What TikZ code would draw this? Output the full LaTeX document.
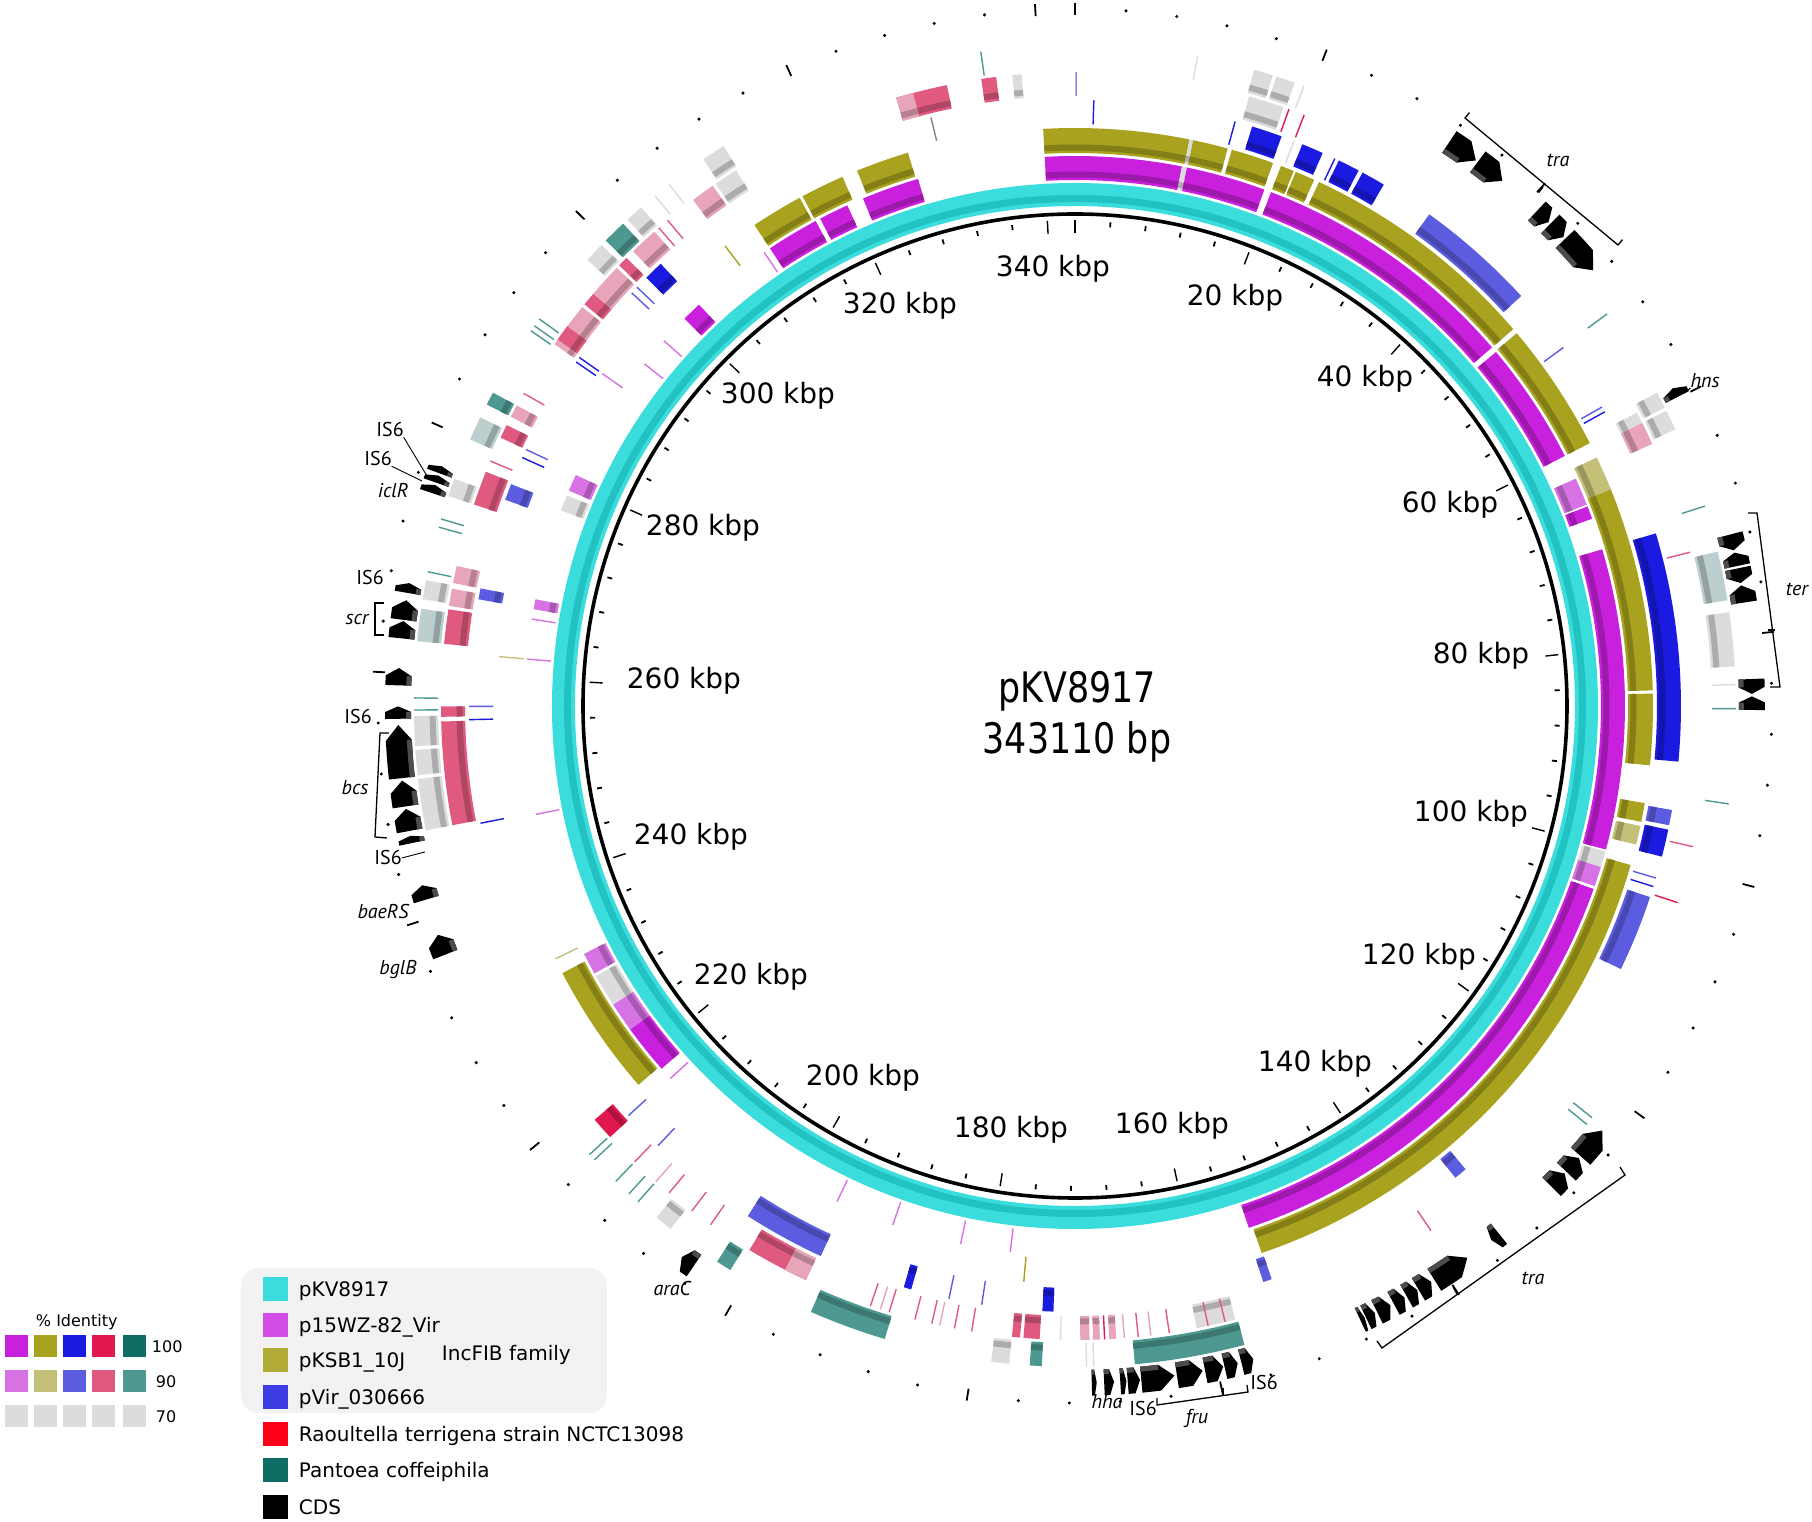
\documentclass[tikz,border=0pt]{standalone}
\usepackage{fontspec}
\usepackage{graphicx}
\usetikzlibrary{calc}
\setmainfont{DejaVu Sans}
\newfontfamily\pts{PT Sans}
\definecolor{cy}{HTML}{3ADCDC}\definecolor{cyd}{HTML}{22C2C2}
\definecolor{mg}{HTML}{C820DC}\definecolor{mgl}{HTML}{D672E4}
\definecolor{ol}{HTML}{A9A21E}\definecolor{oll}{HTML}{C4C078}
\definecolor{bl}{HTML}{1A1AE0}\definecolor{bll}{HTML}{5C5CE0}
\definecolor{rd}{HTML}{E0184E}\definecolor{rdl}{HTML}{E05A80}\definecolor{rdp}{HTML}{E8A4B8}
\definecolor{tl}{HTML}{0E6E66}\definecolor{tll}{HTML}{4E9892}\definecolor{tlg}{HTML}{BCCECE}
\definecolor{gy}{HTML}{DCDCDC}\definecolor{boxg}{HTML}{F2F2F2}
\newcommand\xsg[5]{\pgfmathsetmacro\angA{90-(#3)*1.04922}\pgfmathsetmacro\angB{90-(#4)*1.04922}%
 \fill[#5] (\angA:#2) arc[start angle=\angA,end angle=\angB,radius=#2] -- (\angB:#1) arc[start angle=\angB,end angle=\angA,radius=#1] -- cycle;}
\newcommand\xbd[5]{\xsg{#1}{#2}{#3}{#4}{#5}\pgfmathsetmacro\rA{#1+2.5}\pgfmathsetmacro\rB{#1+8.5}\xsg{\rA}{\rB}{#3}{#4}{#5!78!black}}
\newcommand\xln[4]{\pgfmathsetmacro\lnA{90-(#3)*1.04922}\draw[#4,line width=1.4pt] (\lnA:#1) -- (\lnA:#2);}
\newcommand\mM[3]{\xbd{526}{550}{#1}{#2}{#3}}
\newcommand\mO[3]{\xbd{553}{578}{#1}{#2}{#3}}
\newcommand\mB[3]{\xbd{582}{606}{#1}{#2}{#3}}
\newcommand\mR[3]{\xbd{610}{634}{#1}{#2}{#3}}
\newcommand\mT[3]{\xbd{637}{661}{#1}{#2}{#3}}
\newcommand\lM[2]{\xln{526}{550}{#1}{#2}}
\newcommand\lO[2]{\xln{553}{578}{#1}{#2}}
\newcommand\lB[2]{\xln{582}{606}{#1}{#2}}
\newcommand\lR[2]{\xln{610}{634}{#1}{#2}}
\newcommand\lT[2]{\xln{637}{661}{#1}{#2}}
\newcommand\xgn[2]{\pgfmathsetmacro\gA{90-(#1)*1.04922}\pgfmathsetmacro\gB{90-(#2)*1.04922}%
 \pgfmathsetmacro\gD{\gA-\gB}\pgfmathsetmacro\gL{min(1.3,0.45*abs(\gD))*\gD/abs(\gD)}\pgfmathsetmacro\gM{\gB+\gL}%
 \fill[black] (\gA:690) arc[start angle=\gA,end angle=\gM,radius=690] -- (\gB:677) -- (\gM:664) arc[start angle=\gM,end angle=\gA,radius=664] -- cycle;
 \fill[black!70] (\gA:669) arc[start angle=\gA,end angle=\gM,radius=669] -- (\gM:664) arc[start angle=\gM,end angle=\gA,radius=664] -- cycle;}
\newcommand\tkl[1]{{\fontsize{28}{30}\selectfont #1}}
\newcommand\ctx[1]{\scalebox{0.83}[1]{\fontsize{42}{46}\selectfont #1}}
\newcommand\lgt[1]{{\fontsize{20}{22}\selectfont #1}}
\newcommand\idt[1]{{\fontsize{16}{18}\selectfont #1}}
\newcommand\gli[1]{{\pts\itshape\fontsize{20}{22}\selectfont #1}}
\newcommand\glu[1]{{\pts\fontsize{20}{22}\selectfont #1}}
\tikzset{lab/.style={inner sep=0pt,outer sep=0pt},brk/.style={line width=1.3pt}}
\begin{document}
\begin{tikzpicture}[x=1pt,y=1pt]
\fill[white] (-1075,-816) rectangle (737,706);
\useasboundingbox (-1075,-816) rectangle (737,706);
% ticks and outer scale
\foreach \k in {0,...,85}{%
 \pgfmathsetmacro\tkA{90-4*\k*1.04922}%
 \pgfmathtruncatemacro\tkm{mod(\k,5)}%
 \ifnum\tkm=0 \draw[line width=1.4pt] (\tkA:473)--(\tkA:486); \draw[line width=1.8pt] (\tkA:691)--(\tkA:703);
 \else \draw[line width=1.8pt] (\tkA:480)--(\tkA:485); \fill (\tkA:697) circle (1.7);\fi}
\draw[line width=3.6pt] (0,0) circle (492);
% backbone
\fill[cy,even odd rule] (0,0) circle (523) (0,0) circle (500);
\fill[cyd,even odd rule] (0,0) circle (511) (0,0) circle (504);
% p15WZ-82_Vir
\mM{340.1}{353.8}{mg}\mM{10.7}{11.2}{gy}\mM{11.2}{19.2}{mg}\mM{19.9}{47}{mg}\mM{47.6}{60}{mg}
\mM{62.5}{65.3}{mgl}\mM{65.5}{66.8}{mg}\mM{70}{100.2}{mg}\mM{100.4}{102}{gy}\mM{102}{104}{mgl}
\mM{104.3}{154}{mg}\mM{218}{223}{mg}\mM{223}{226}{mgl}\mM{226}{229.3}{gy}\mM{229.6}{231.8}{mgl}
\mM{300}{302}{mg}\mM{311}{316.3}{mg}\mM{316.8}{319.8}{mg}\mM{321.5}{327.3}{mg}
\mM{277.2}{278.8}{gy}\mM{279.3}{281}{mgl}\mM{267}{268}{mgl}
\lM{266}{mgl}\lM{262}{mgl}\lM{246.5}{mgl}\lM{216.7}{mgl}\lM{294}{mgl}\lM{297}{mgl}\lM{310.3}{mgl}
\lM{196}{mgl}\lM{190}{mgl}\lM{183}{mgl}\lM{178}{mgl}
% pKSB1_10J
\mO{340.1}{354}{ol}\mO{10.9}{11.25}{gy}\mO{11.25}{14.6}{ol}\mO{15}{19.1}{ol}\mO{19.9}{21.2}{ol}\mO{21.4}{23.3}{ol}
\mO{23.8}{47}{ol}\mO{47.5}{60}{ol}\mO{61.5}{64.8}{oll}\mO{64.8}{84.3}{ol}\mO{84.6}{91.4}{ol}
\mO{95}{96.8}{ol}\mO{97.2}{99}{oll}\mO{101}{153.6}{ol}\mO{218.3}{231.1}{ol}
\mO{311}{316}{ol}\mO{316.3}{320.5}{ol}\mO{322}{327.1}{ol}
\lO{307.6}{ol}\lO{262}{oll}\lO{176.4}{ol}\lO{232.6}{oll}\lO{290.8}{mgl}
% pVir_030666
\lB{1.7}{bl}\lB{330}{gy!60!black}\lB{14.6}{bl}\mB{16.2}{19}{bl}\lB{20.2}{gy}\mB{21}{23}{bl}\lB{24.2}{bl}\mB{24.6}{26.6}{bl}\mB{27}{29.2}{bl}
\mB{34.1}{45.2}{bll}\lB{51.2}{bll}\lB{58.1}{bl}\lB{57.6}{bll}\mB{70}{90.8}{bl}
\mB{95.2}{96.6}{bll}\mB{97}{99.5}{bl}\lB{101.5}{bll}\lB{102.3}{bl}\mB{103.3}{110.3}{bll}
\mB{133.3}{134.5}{bll}\mB{153.5}{154.3}{bll}\mB{173.5}{174.5}{bl}\mB{186.5}{187.2}{bl}
\lB{180}{bll}\lB{183}{bll}\mB{195.2}{202.7}{bll}\lB{216.8}{bll}\lB{213}{bll}
\mB{300.2}{302}{bl}\lB{290.3}{bl}\lB{290.8}{bl}\lB{299}{bll}\lB{298.3}{bll}
\mB{276.3}{277.8}{bll}\lB{280.4}{bl}\lB{281.2}{bll}\mB{267}{268}{bll}
\lB{256.1}{bl}\lB{257.3}{bll}\lB{246.7}{bl}
% Raoultella
\mR{327.5}{332}{rdl}\mR{327.5}{329}{rdp}\mR{335}{336.3}{rdl}\mR{337.7}{338.5}{gy}\lR{0.1}{gy!60!blue}
\mR{15.2}{18.3}{gy}\lR{18.8}{rd}\lR{20.2}{rd}\mR{59.5}{60.5}{gy}\mR{60.5}{62.5}{rdp}
\lR{72.4}{rdl}\lR{98}{rdl}\lR{103}{rd}\lR{139}{rdl}
\mR{157.6}{161}{gy}\lR{158.5}{rdl}\lR{160}{rdl}
\lR{163.4}{rdl}\lR{165}{rdp}\lR{166.1}{rdl}\lR{167.3}{rdp}
\mR{168}{168.6}{rdp}\lR{169}{rd}\mR{169.4}{170}{rdp}\mR{170.3}{171.1}{rdp}\lR{172.8}{gy}
\mR{174.6}{176}{rdl}\mR{176.3}{177}{rdl}
\lR{180.5}{rdl}\lR{182}{rdl}\lR{183.3}{rdp}\lR{184}{rdl}\lR{185.5}{rdl}\lR{187.8}{rdl}\lR{188.6}{rdp}\lR{189.5}{rdl}
\mR{195.5}{201}{rdl}\mR{195.5}{197.5}{rdp}
\lR{205}{rdl}\lR{207}{rdl}\lR{209.5}{rdl}\lR{211}{rdp}\lR{213.5}{rdl}
\mR{216.5}{218.5}{rd}\mR{247}{256}{rdl}\mR{256.4}{257.3}{rdl}\mR{262.7}{265.7}{rdl}
\mR{266}{267.5}{rdp}\mR{268}{269.5}{rdp}\mR{275}{278}{rdl}\mR{281.2}{282.4}{rdl}\mR{283.2}{284.3}{rdp}
\lR{285.5}{rdl}\lR{279}{rdl}
\mR{290.5}{294.5}{rdp}\mR{291}{292.4}{rdl}\mR{294.8}{296}{rdl}\mR{296}{299}{rdp}\mR{299.3}{300.2}{rdl}
\mR{301}{303.5}{rdp}\lR{304}{rdl}\lR{305}{rdl}\mR{307.8}{309.9}{rdp}\mR{310.2}{312.3}{gy}
% Pantoea
\lT{335.3}{tll}\lT{10.2}{gy}
\mT{15}{16.6}{gy}\mT{16.9}{18.5}{gy}\lT{19.3}{gy}\lT{51.1}{tll}\mT{58.8}{60.2}{gy}\mT{60.5}{62.2}{gy}
\lT{69}{tll}\mT{72.9}{77}{tlg}\mT{78}{82.5}{gy}\lT{84}{gy}\lT{86}{tll}\lT{93.9}{tll}
\lT{122.5}{tll}\lT{123.2}{tll}\mT{157.4}{166.6}{tll}\lT{170}{gy}\lT{170.6}{gy}
\mT{174.3}{175.3}{tll}\mT{177}{178.5}{gy}\mT{187.5}{194}{tll}\mT{201.5}{202.8}{tll}
\mT{207.5}{209}{gy}\lT{211}{tll}\lT{212}{tll}\lT{213.5}{tll}\lT{216}{tll}\lT{216.6}{tll}
\mT{247}{251.3}{gy}\mT{251.6}{253.7}{gy}\mT{254}{256.5}{gy}\lT{257}{tll}\lT{258}{tll}
\mT{262.7}{265.4}{tlg}\mT{266.2}{267.8}{gy}\lT{268.5}{tll}\lT{273}{tll}\lT{272.3}{tll}
\mT{275}{276.5}{gy}\mT{280}{282}{tlg}\mT{283.2}{284.3}{tll}
\lT{290.3}{tll}\lT{290.8}{tll}\lT{291.5}{tll}\mT{297.8}{299.5}{gy}\mT{300}{302}{tll}
\mT{302.5}{304}{gy}\mT{310.5}{312.5}{gy}\lT{305.5}{gy}\lT{307}{gy}
% CDS
\xgn{32}{34.6}\xgn{34.8}{37.3}\xgn{41}{42.3}\xgn{42.5}{44}\xgn{44.2}{47.6}
\xgn{59.9}{59.1}
\xgn{71.8}{73.1}\xgn{74.4}{73.3}\xgn{74.6}{75.8}\xgn{77.4}{76}\xgn{83.6}{84.8}\xgn{86.1}{85}
\xgn{125.5}{122.8}\xgn{127.2}{125.7}\xgn{128.9}{127.4}\xgn{134.6}{135.4}
\xgn{141}{137.8}\xgn{142.5}{141.3}\xgn{143.6}{142.6}\xgn{144.8}{143.8}\xgn{146.3}{145.1}\xgn{147.3}{146.5}\xgn{147.8}{147.4}
\xgn{158}{157}\xgn{159.4}{158.3}\xgn{161}{159.5}\xgn{163.3}{161.2}\xgn{166.2}{163.5}\xgn{167.3}{166.3}
\xgn{167.9}{167.4}\xgn{169.2}{168.4}\xgn{170.2}{169.8}
\xgn{204.2}{205.4}\xgn{236.8}{238.5}\xgn{241.5}{242.7}
\xgn{246.2}{246.8}\xgn{247.2}{249}\xgn{249.2}{251.3}\xgn{251.5}{255.8}\xgn{256.3}{257.3}
\xgn{259}{260.4}\xgn{262.8}{264.2}\xgn{264.3}{265.9}\xgn{266.5}{267.3}
\xgn{274.8}{275.5}\xgn{275.7}{276.3}\xgn{276.5}{277.1}
% scale labels
\node[lab] (k340) at (-22,437) {\tkl{340 kbp}};
\node[lab] (k20) at (160,408) {\tkl{20 kbp}};
\node[lab] (k40) at (290,327) {\tkl{40 kbp}};
\node[lab] (k60) at (375,201) {\tkl{60 kbp}};
\node[lab] (k80) at (406,50) {\tkl{80 kbp}};
\node[lab] (k100) at (396,-108) {\tkl{100 kbp}};
\node[lab] (k120) at (344,-251) {\tkl{120 kbp}};
\node[lab] (k140) at (240,-358) {\tkl{140 kbp}};
\node[lab] (k160) at (97,-420) {\tkl{160 kbp}};
\node[lab] (k180) at (-64,-424) {\tkl{180 kbp}};
\node[lab] (k200) at (-212,-372) {\tkl{200 kbp}};
\node[lab] (k220) at (-324,-271) {\tkl{220 kbp}};
\node[lab] (k240) at (-384,-131) {\tkl{240 kbp}};
\node[lab] (k260) at (-391,25) {\tkl{260 kbp}};
\node[lab] (k280) at (-372,178) {\tkl{280 kbp}};
\node[lab] (k300) at (-297,310) {\tkl{300 kbp}};
\node[lab] (k320) at (-175,400) {\tkl{320 kbp}};
\node[lab] (title) at (2,15) {\ctx{pKV8917}};
\node[lab] (size) at (2,-36) {\ctx{343110 bp}};
% gene labels and brackets
\node[lab] (ltra1) at (483,546) {\gli{tra}};
\coordinate (b1a) at (390,588);\coordinate (b1b) at (543,461);\coordinate (b1m) at (468,519);
\draw[brk] ($(b1a)!7pt!90:(b1b)$) -- (b1a) -- (b1b) -- ($(b1b)!7pt!-90:(b1a)$);
\draw[brk] (b1m) -- ($(b1m)!7pt!-90:(b1b)$);
\node[lab] (lhns) at (630,325) {\gli{hns}};
\coordinate (hg) at (613,316);
\draw[line width=1pt] (hg) -- (lhns.south west);
\node[lab] (lter) at (722,117) {\gli{ter}};
\coordinate (b2a) at (682,193);\coordinate (b2b) at (705,19);\coordinate (b2m) at (693,76);
\draw[brk] (673,193) -- (b2a) -- (b2b) -- (695,19);
\draw[brk] (b2m) -- (700,76);
\node[lab] (lis1) at (-685,276) {\glu{IS6}};
\node[lab] (lis2) at (-697,247) {\glu{IS6}};
\node[lab] (liclr) at (-682,215) {\gli{iclR}};
\coordinate (g1) at (-648,230);\coordinate (g2) at (-653,225);
\draw[line width=0.9pt] (lis1.south east) -- (g1);
\draw[line width=0.9pt] (lis2.south east) -- (g2);
\node[lab] (lis3) at (-705,128) {\glu{IS6}};
\node[lab] (lscr) at (-718,86) {\gli{scr}};
\coordinate (b3a) at (-700,103);\coordinate (b3b) at (-700,71);
\draw[brk] (-691,103) -- (b3a) -- (b3b) -- (-691,71);
\node[lab] (lis4) at (-717,-11) {\glu{IS6}};
\node[lab] (lbcs) at (-720,-82) {\gli{bcs}};
\coordinate (b4a) at (-695,-27);\coordinate (b4b) at (-700,-131);
\draw[brk] (-686,-27) -- (b4a) -- (b4b) -- (-688,-132);
\node[lab] (lis5) at (-687,-152) {\glu{IS6}};
\coordinate (g5) at (-650,-146);
\draw[line width=0.9pt] (lis5.east) -- (g5);
\node[lab] (lbae) at (-692,-206) {\gli{baeRS}};
\node[lab] (lbgl) at (-677,-264) {\gli{bglB}};
\node[lab] (larac) at (-403,-582) {\gli{araC}};
\node[lab] (lhha) at (32,-696) {\gli{hha}};
\node[lab] (lis6) at (68,-702) {\glu{IS6}};
\node[lab] (lis7) at (189,-676) {\glu{IS6}};
\node[lab] (lfru) at (122,-712) {\gli{fru}};
\coordinate (b5a) at (82,-699);\coordinate (b5b) at (173,-686);
\draw[brk] (82,-692) -- (b5a) -- (b5b) -- (172,-679);
\draw[brk] (148,-689) -- (148,-682);
\node[lab] (ltra2) at (458,-572) {\gli{tra}};
\coordinate (b6a) at (550,-469);\coordinate (b6b) at (307,-642);
\draw[brk] (545,-461) -- (b6a) -- (b6b) -- (302,-635);
\draw[brk] (382,-588) -- (378,-581);
% legend
\fill[boxg,rounded corners=18] (-834,-562) rectangle (-468,-707);
\fill[cy] (-812,-595) rectangle (-787,-571);
\fill[mg!80!white] (-812,-631) rectangle (-787,-607);
\fill[ol!90!white] (-812,-666) rectangle (-787,-642);
\fill[bl!85!white] (-812,-703) rectangle (-787,-679);
\fill[red!90!magenta] (-812,-739.5) rectangle (-787,-715.5);
\fill[tl] (-812,-776) rectangle (-787,-752);
\fill[black] (-812,-812.5) rectangle (-787,-788.5);
\node[lab,anchor=base west] (lg1) at (-776,-590.5) {\lgt{pKV8917}};
\node[lab,anchor=base west] (lg2) at (-776,-626.5) {\lgt{p15WZ-82\_Vir}};
\node[lab,anchor=base west] (lg3) at (-776,-661.5) {\lgt{pKSB1\_10J}};
\node[lab,anchor=base west] (lg4) at (-776,-698.5) {\lgt{pVir\_030666}};
\node[lab,anchor=base west] (lg5) at (-776,-735) {\lgt{Raoultella terrigena strain NCTC13098}};
\node[lab,anchor=base west] (lg6) at (-776,-771.5) {\lgt{Pantoea coffeiphila}};
\node[lab,anchor=base west] (lg7) at (-776,-808) {\lgt{CDS}};
\node[lab,anchor=base west] (lginc) at (-633,-654) {\lgt{IncFIB family}};
\node[lab,anchor=base west] (lgid) at (-1039,-620) {\idt{\% Identity}};
\foreach \x/\c in {-1070/mg,-1041/ol,-1012/bl,-983/rd,-952/tl}{\fill[\c] (\x,-629) rectangle ++(23,-22);}
\foreach \x/\c in {-1070/mgl,-1041/oll,-1012/bll,-983/rdl,-952/tll}{\fill[\c] (\x,-664) rectangle ++(23,-22);}
\foreach \x in {-1070,-1041,-1012,-983,-952}{\fill[gy] (\x,-699) rectangle ++(23,-22);}
\node[lab,anchor=base west] (id100) at (-923,-646) {\idt{100}};
\node[lab,anchor=base west] (id90) at (-919,-681) {\idt{90}};
\node[lab,anchor=base west] (id70) at (-919,-716) {\idt{70}};
\end{tikzpicture}
\end{document}
